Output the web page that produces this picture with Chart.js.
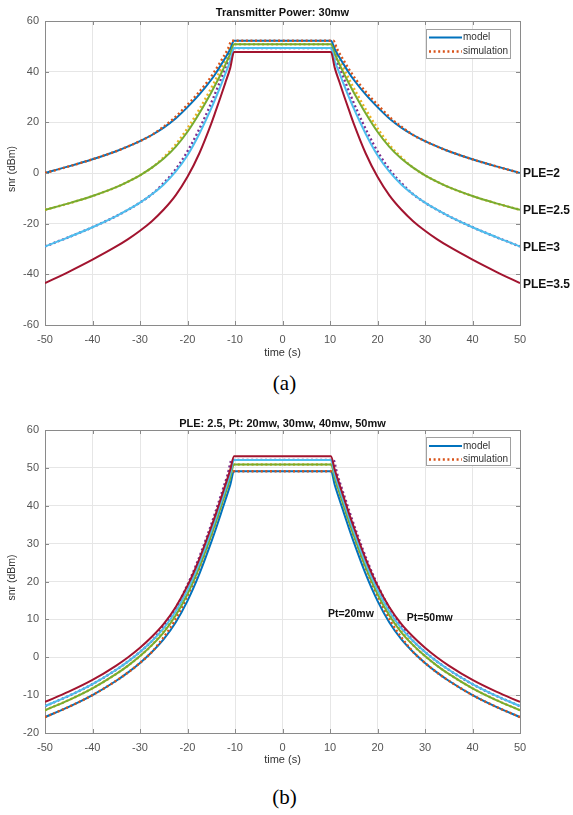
<!DOCTYPE html>
<html><head><meta charset="utf-8">
<script src="https://cdn.jsdelivr.net/npm/chart.js@4.4.1/dist/chart.umd.min.js"></script>
<style>
html,body{margin:0;padding:0;background:#fff;width:573px;height:815px;overflow:hidden;}
.box{position:absolute;left:0;width:573px;}
#wa{top:0;height:365px;}
#wb{top:400px;height:375px;}
.cap{position:absolute;left:-2px;width:573px;text-align:center;font-family:"Liberation Serif","Times New Roman",serif;font-size:21px;line-height:24px;color:#000;}
</style></head><body>
<div class="box" id="wa"><canvas id="ca" width="573" height="365"></canvas></div>
<div class="box" id="wb"><canvas id="cb" width="573" height="375"></canvas></div>
<div class="cap" style="top:371px">(a)</div>
<div class="cap" style="top:785px">(b)</div>
<script>
// ---------- data ----------
const times    = [-50,-45,-40,-35,-32.5,-30,-27.5,-25,-22.5,-20,-17.5,-15,-14,-13,-12,-11,-10.2, 10.2,11,12,13,14,15,17.5,20,22.5,25,27.5,30,32.5,35,40,45,50];
const simTimes = [-50,-45,-40,-35,-32.5,-30,-27.5,-25.3,-22.9,-20.5,-18,-15.5,-14.5,-13.5,-12.5,-11.5,-10.7, 10.7,11.5,12.5,13.5,14.5,15.5,18,20.5,22.9,25.3,27.5,30,32.5,35,40,45,50];

// (a) Transmitter Power 30mw, different PLE
const pleNames = ['PLE=2','PLE=2.5','PLE=3','PLE=3.5'];
const ple2  = [0.0,2.6,5.4,8.6,10.5,12.6,15.0,17.9,21.5,26.0,31.0,36.8,39.5,42.5,45.6,48.9,52.2, 52.2,48.9,45.6,42.5,39.5,36.8,31.0,26.0,21.5,17.9,15.0,12.6,10.5,8.6,5.4,2.6,0.0];
const ple25 = [-14.5,-12.0,-9.1,-5.6,-3.4,-0.9,2.1,5.7,10.3,16.3,23.6,31.8,35.3,39.0,42.9,47.0,50.8, 50.8,47.0,42.9,39.0,35.3,31.8,23.6,16.3,10.3,5.7,2.1,-0.9,-3.4,-5.6,-9.1,-12.0,-14.5];
const ple3  = [-29.0,-25.3,-21.4,-17.0,-14.5,-11.7,-8.4,-4.5,0.5,7.0,15.5,25.5,29.9,34.5,39.3,44.2,49.3, 49.3,44.2,39.3,34.5,29.9,25.5,15.5,7.0,0.5,-4.5,-8.4,-11.7,-14.5,-17.0,-21.4,-25.3,-29.0];
const ple35 = [-43.5,-39.0,-34.2,-29.0,-26.1,-22.8,-19.0,-14.4,-8.8,-1.5,7.8,19.5,24.8,30.2,35.8,41.5,47.8, 47.8,41.5,35.8,30.2,24.8,19.5,7.8,-1.5,-8.8,-14.4,-19.0,-22.8,-26.1,-29.0,-34.2,-39.0,-43.5];

// (b) PLE 2.5, different transmit powers
const pt20 = [-15.8,-13.1,-10.0,-6.2,-4.0,-1.5,1.4,4.8,9.2,14.9,22.0,30.4,34.0,37.8,41.6,45.5,49.1, 49.1,45.5,41.6,37.8,34.0,30.4,22.0,14.9,9.2,4.8,1.4,-1.5,-4.0,-6.2,-10.0,-13.1,-15.8];
const pt30 = [-14.0,-11.3,-8.2,-4.4,-2.2,0.3,3.2,6.6,11.0,16.7,23.8,32.2,35.8,39.6,43.4,47.3,50.9, 50.9,47.3,43.4,39.6,35.8,32.2,23.8,16.7,11.0,6.6,3.2,0.3,-2.2,-4.4,-8.2,-11.3,-14.0];
const pt40 = [-12.9,-10.2,-7.1,-3.3,-1.1,1.4,4.3,7.7,12.1,17.8,24.9,33.3,36.9,40.7,44.5,48.4,52.1, 52.1,48.4,44.5,40.7,36.9,33.3,24.9,17.8,12.1,7.7,4.3,1.4,-1.1,-3.3,-7.1,-10.2,-12.9];
const pt50 = [-11.8,-9.1,-6.0,-2.2,0.0,2.5,5.4,8.8,13.2,18.9,26.0,34.4,38.0,41.8,45.6,49.5,53.1, 53.1,49.5,45.6,41.8,38.0,34.4,26.0,18.9,13.2,8.8,5.4,2.5,0.0,-2.2,-6.0,-9.1,-11.8];
const ptNoteText = ['Pt=20mw','Pt=50mw'];
const ptNoteX = [14.4, 31.0];
const ptNoteY = [11.5, 10.4];

const legendNames = ['model','simulation'];
const xRange = [-50, 50, 10];
const yRangeA = [-60, 60, 20];
const yRangeB = [-20, 60, 10];

// ---------- styles ----------
const C = {blue:'#0072BD', orange:'#D95319', yellow:'#EDB120', purple:'#7E2F8E', green:'#77AC30', lblue:'#4DBEEE', red:'#A2142F'};
const SANS = '"Liberation Sans", Arial, sans-serif';

function series(xs, ys, color, dotted, order){
  return {
    data: xs.map((x,i)=>({x:x, y:ys[i]})),
    borderColor: color, backgroundColor: color,
    borderWidth: dotted ? 2.4 : 2,
    borderDash: dotted ? [2,2.6] : [],
    borderCapStyle: 'butt',
    pointRadius: 0, fill: false,
    cubicInterpolationMode: 'monotone',
    order: order
  };
}

function decorPlugin(o){
  return {
    id: 'decor',
    beforeDraw(chart){
      const ctx = chart.ctx;
      ctx.save(); ctx.fillStyle = '#fff'; ctx.fillRect(0,0,chart.width,chart.height); ctx.restore();
    },
    afterDraw(chart){
      const ctx = chart.ctx, a = chart.chartArea, xs = chart.scales.x, ys = chart.scales.y;
      ctx.save();
      ctx.strokeStyle = '#8a8a8a'; ctx.lineWidth = 1;
      ctx.beginPath();
      ctx.moveTo(a.left, a.top+0.5); ctx.lineTo(a.right+0.5, a.top+0.5); ctx.lineTo(a.right+0.5, a.bottom);
      ctx.stroke();
      ctx.beginPath();
      xs.ticks.forEach(t=>{ const px = Math.round(xs.getPixelForValue(t.value))+0.5;
        ctx.moveTo(px, a.bottom); ctx.lineTo(px, a.bottom-4);
        ctx.moveTo(px, a.top); ctx.lineTo(px, a.top+4); });
      ys.ticks.forEach(t=>{ const py = Math.round(ys.getPixelForValue(t.value))+0.5;
        ctx.moveTo(a.left, py); ctx.lineTo(a.left+4, py);
        ctx.moveTo(a.right, py); ctx.lineTo(a.right-4, py); });
      ctx.stroke();
      ctx.fillStyle = '#111'; ctx.font = 'bold 11px ' + SANS;
      ctx.textAlign = 'center'; ctx.textBaseline = 'middle';
      ctx.fillText(o.title, (a.left+a.right)/2, o.titleY);
      ctx.fillStyle = '#333'; ctx.font = '11px ' + SANS;
      ctx.fillText('time (s)', (a.left+a.right)/2, a.bottom + o.xTitleDy);
      ctx.save(); ctx.translate(12, (a.top+a.bottom)/2 - 4); ctx.rotate(-Math.PI/2);
      ctx.font = '10.5px ' + SANS; ctx.fillText('snr (dBm)', 0, 0); ctx.restore();
      const L = o.legend;
      ctx.fillStyle = '#fff'; ctx.fillRect(L.x, L.y, L.w, L.h);
      ctx.strokeStyle = '#a0a0a0'; ctx.lineWidth = 1; ctx.strokeRect(L.x+0.5, L.y+0.5, L.w, L.h);
      ctx.lineWidth = 2; ctx.strokeStyle = C.blue; ctx.setLineDash([]);
      ctx.beginPath(); ctx.moveTo(L.x+3, L.y+L.r1); ctx.lineTo(L.x+36, L.y+L.r1); ctx.stroke();
      ctx.lineWidth = 2.4; ctx.strokeStyle = C.orange; ctx.setLineDash([2,2.6]);
      ctx.beginPath(); ctx.moveTo(L.x+3, L.y+L.r2); ctx.lineTo(L.x+36, L.y+L.r2); ctx.stroke();
      ctx.setLineDash([]);
      ctx.fillStyle = '#333'; ctx.font = '10px ' + SANS; ctx.textAlign = 'left';
      ctx.fillText(legendNames[0], L.x+37, L.y+L.r1);
      ctx.fillText(legendNames[1], L.x+37, L.y+L.r2);
      ctx.fillStyle = '#111';
      o.notes(chart, ctx);
      ctx.restore();
    }
  };
}

function makeChart(id, datasets, yr, padTop, xh, o){
  return new Chart(document.getElementById(id), {
    type: 'line',
    data: { datasets: datasets },
    options: {
      responsive: false, animation: false, devicePixelRatio: 1,
      layout: { padding: { top: padTop, right: 53, left: 0, bottom: 0 } },
      plugins: { legend: { display: false }, tooltip: { enabled: false }, title: { display: false } },
      scales: {
        x: { type: 'linear', min: xRange[0], max: xRange[1],
             ticks: { stepSize: xRange[2], padding: 8, color: '#555', font: { family: SANS, size: 11 }, maxRotation: 0, autoSkip: false },
             grid: { color: '#e6e6e6', drawTicks: false }, border: { color: '#8a8a8a' },
             afterFit: s => { s.height = xh; } },
        y: { type: 'linear', min: yr[0], max: yr[1],
             ticks: { stepSize: yr[2], padding: 6, color: '#555', font: { family: SANS, size: 11 } },
             grid: { color: '#e6e6e6', drawTicks: false }, border: { color: '#8a8a8a' },
             afterFit: s => { s.width = 45; } }
      }
    },
    plugins: [decorPlugin(o)]
  });
}

// chart (a)
const pleSeries = [ple2, ple25, ple3, ple35];
makeChart('ca', [
  series(simTimes, ple25, C.yellow, true, 9),
  series(simTimes, ple3,  C.purple, true, 8),
  series(times, ple2,  C.blue,   false, 7),
  series(simTimes, ple2, C.orange, true, 6),
  series(times, ple25, C.green,  false, 5),
  series(times, ple3,  C.lblue,  false, 4),
  series(times, ple35, C.red,    false, 3)
], yRangeA, 21, 40, {
  title: 'Transmitter Power: 30mw', titleY: 13, xTitleDy: 28,
  legend: { x: 426, y: 29, w: 84, h: 29, r1: 8.5, r2: 22.5 },
  notes: (chart, ctx) => {
    const a = chart.chartArea, ys = chart.scales.y;
    ctx.font = 'bold 12px ' + SANS; ctx.textAlign = 'left'; ctx.textBaseline = 'middle';
    pleSeries.forEach((s,i) => ctx.fillText(pleNames[i], a.right + 3, ys.getPixelForValue(s[s.length-1]) + 1));
  }
});

// chart (b)
makeChart('cb', [
  series(simTimes, pt30, C.yellow, true, 9),
  series(simTimes, pt40, C.purple, true, 8),
  series(times, pt20, C.blue,   false, 7),
  series(simTimes, pt20, C.orange, true, 6),
  series(times, pt30, C.green,  false, 5),
  series(times, pt40, C.lblue,  false, 4),
  series(times, pt50, C.red,    false, 3)
], yRangeB, 30, 42, {
  title: 'PLE: 2.5, Pt: 20mw, 30mw, 40mw, 50mw', titleY: 24, xTitleDy: 27,
  legend: { x: 426, y: 37, w: 84, h: 28, r1: 9, r2: 22.5 },
  notes: (chart, ctx) => {
    const xs = chart.scales.x, ys = chart.scales.y;
    ctx.font = 'bold 10.5px ' + SANS; ctx.textAlign = 'center'; ctx.textBaseline = 'middle';
    ptNoteText.forEach((t,i) => ctx.fillText(t, xs.getPixelForValue(ptNoteX[i]), ys.getPixelForValue(ptNoteY[i])));
  }
});
</script>
</body></html>
